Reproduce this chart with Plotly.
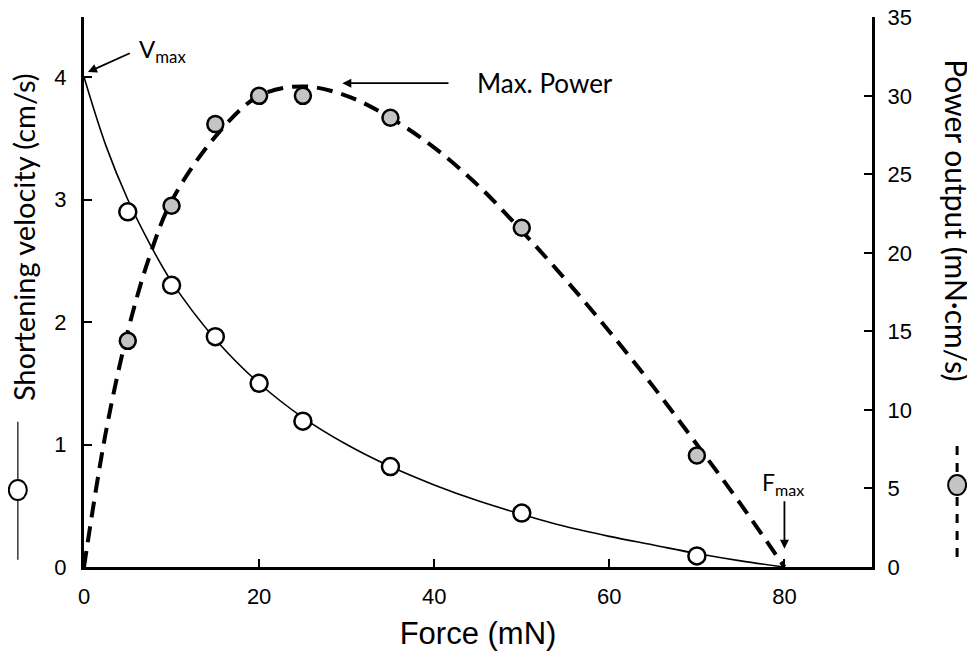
import plotly.graph_objects as go

# measured points
force_pts = [5, 10, 15, 20, 25, 35, 50, 70]
velocity_pts = [2.90, 2.30, 1.88, 1.50, 1.19, 0.82, 0.44, 0.09]
power_pts = [14.4, 23.0, 28.2, 30.0, 30.0, 28.6, 21.6, 7.1]

# fitted curves
force_fit = [0, 2.5, 5, 7.5, 10, 15, 20, 25, 30, 35, 40, 45, 50, 55, 60, 65, 70, 75, 80]
velocity_fit = [4.0, 3.44, 3.0, 2.64, 2.33, 1.86, 1.5, 1.22, 1.0, 0.82, 0.67,
                0.54, 0.43, 0.33, 0.25, 0.18, 0.11, 0.05, 0.0]
power_fit = [0, 8.6, 15.0, 19.8, 23.3, 27.4, 30.0, 30.6, 30.0, 28.6, 26.7,
             24.3, 21.4, 18.3, 15.0, 11.5, 7.8, 4.0, 0.0]

x_ticks = [0, 20, 40, 60, 80]
v_ticks = [0, 1, 2, 3, 4]
p_ticks = [0, 5, 10, 15, 20, 25, 30, 35]

FONT = "Liberation Sans, Arial, sans-serif"
LABEL_FONT = "Lato, Open Sans, sans-serif"

fig = go.Figure()
fig.add_trace(go.Scatter(x=force_fit, y=power_fit, mode="lines", yaxis="y2",
                         line=dict(color="black", width=4, dash="16px,9px", shape="spline"),
                         hoverinfo="skip"))
fig.add_trace(go.Scatter(x=force_fit, y=velocity_fit, mode="lines",
                         line=dict(color="black", width=1.6, shape="spline"),
                         hoverinfo="skip"))
fig.add_trace(go.Scatter(x=force_pts, y=power_pts, mode="markers", yaxis="y2",
                         marker=dict(size=16, color="#c4c4c4",
                                     line=dict(color="black", width=2.5))))
fig.add_trace(go.Scatter(x=force_pts, y=velocity_pts, mode="markers",
                         marker=dict(size=17, color="white",
                                     line=dict(color="black", width=2.5))))

axis_common = dict(showgrid=False, zeroline=False, showline=True, linecolor="black",
                   linewidth=3, ticks="inside", ticklen=8, tickwidth=2, tickcolor="black",
                   automargin=False,
                   tickfont=dict(family=FONT, size=22, color="black"))

# page has an 8px body margin, so the figure is a bit smaller than the window
fig.update_layout(
    width=967, height=662,
    margin=dict(l=76, r=103, t=9, b=103),
    plot_bgcolor="white", paper_bgcolor="white",
    showlegend=False,
    xaxis=dict(range=[0, 90], tickvals=x_ticks, ticklabelstandoff=8,
               title=dict(text="Force (mN)", font=dict(family=FONT, size=31, color="black"),
                          standoff=14),
               **axis_common),
    yaxis=dict(range=[0, 4.49], tickvals=v_ticks, ticklabelstandoff=10, **axis_common),
    yaxis2=dict(range=[0, 35.02], tickvals=p_ticks, overlaying="y", side="right",
                ticklabelstandoff=8, ticklabeloverflow="allow", **axis_common),
)

# arrows
arrow = dict(text="", showarrow=True, arrowhead=2, arrowsize=1, arrowwidth=1.8,
             arrowcolor="black", axref="x", ayref="y")
fig.add_annotation(x=0.45, y=4.04, ax=5.4, ay=4.2, **arrow)
fig.add_annotation(x=29.5, y=3.95, ax=41.8, ay=3.95, **arrow)
fig.add_annotation(x=80, y=0.15, ax=80, ay=0.55, **arrow)
# labels
fig.add_annotation(x=6.1, y=4.22, text="V<sub>max</sub>", showarrow=False, xanchor="left",
                   font=dict(family=LABEL_FONT, size=24, color="black"))
fig.add_annotation(x=44.6, y=3.95, text="Max. Power", showarrow=False, xanchor="left",
                   font=dict(family=LABEL_FONT, size=26, color="black"))
fig.add_annotation(x=77.2, y=0.68, text="F<sub>max</sub>", showarrow=False, xanchor="left",
                   font=dict(family=LABEL_FONT, size=23, color="black"))

# axis titles with legend glyphs
fig.add_annotation(xref="paper", yref="paper", x=-0.102, y=0.6, text="Shortening velocity (cm/s)",
                   textangle=-90, showarrow=False,
                   font=dict(family=LABEL_FONT, size=29, color="black"))
fig.add_annotation(xref="paper", yref="paper", x=1.133, y=0.631, text="Power output (mN·cm/s)",
                   textangle=90, showarrow=False,
                   font=dict(family=LABEL_FONT, size=30, color="black"))

fig.add_shape(type="line", xref="paper", yref="paper", x0=-0.084, x1=-0.084, y0=0.013, y1=0.264,
              line=dict(color="#444444", width=1.6))
fig.add_shape(type="circle", xref="paper", yref="paper", xsizemode="pixel", ysizemode="pixel",
              xanchor=-0.084, yanchor=0.14, x0=-9, x1=9, y0=-10, y1=10,
              fillcolor="white", line=dict(color="black", width=2))
fig.add_shape(type="line", xref="paper", yref="paper", x0=1.108, x1=1.108, y0=0.018, y1=0.227,
              line=dict(color="black", width=3, dash="9px,8px"))
fig.add_shape(type="circle", xref="paper", yref="paper", xsizemode="pixel", ysizemode="pixel",
              xanchor=1.108, yanchor=0.149, x0=-9, x1=9, y0=-10, y1=10,
              fillcolor="#c4c4c4", line=dict(color="black", width=2))

fig.write_html("out.html")
